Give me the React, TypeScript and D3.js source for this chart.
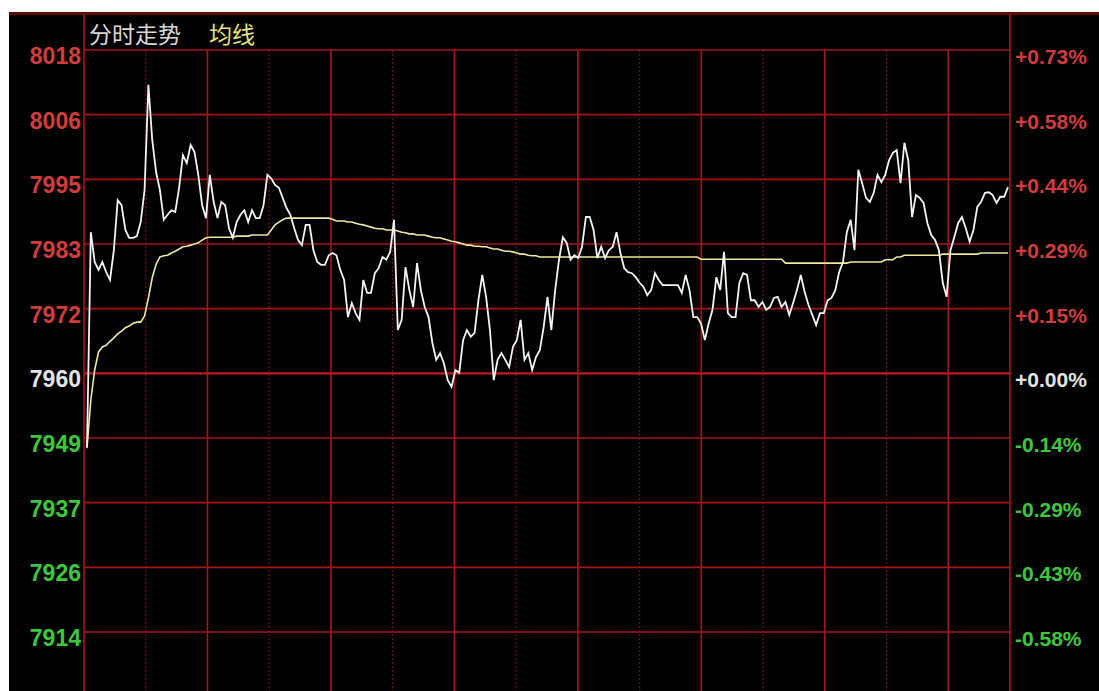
import React from "react";
import * as d3 from "d3";

// ---- data ----
const minutes = d3.range(0, 241);

const price: number[] = [
  7947.4, 7985.6, 7980.3, 7978.9, 7980.3, 7978.5, 7977.1, 7982.4, 7991.3, 7990.4,
  7986.0, 7984.6, 7984.6, 7984.9, 7987.4, 7993.1, 8011.8, 8002.0, 7996.3, 7993.1,
  7987.8, 7988.7, 7989.5, 7989.2, 7993.5, 7999.3, 7997.9, 8001.1, 7999.9, 7995.8,
  7990.4, 7988.1, 7995.8, 7991.0, 7988.1, 7991.0, 7990.4, 7986.3, 7984.6, 7987.4,
  7988.7, 7989.5, 7987.4, 7989.5, 7988.1, 7988.1, 7990.4, 7995.8, 7995.2, 7994.0,
  7993.5, 7991.7, 7989.9, 7988.7, 7986.3, 7984.2, 7983.3, 7986.9, 7986.9, 7982.4,
  7980.3, 7979.8, 7979.8, 7981.5, 7981.9, 7981.5, 7978.9, 7977.1, 7970.5, 7973.0,
  7971.2, 7970.0, 7977.1, 7974.8, 7974.8, 7978.3, 7979.2, 7981.2, 7980.7, 7982.1,
  7987.8, 7968.2, 7970.0, 7979.4, 7975.3, 7972.3, 7980.1, 7975.3, 7972.3, 7970.5,
  7965.9, 7962.9, 7964.1, 7962.3, 7959.3, 7958.1, 7961.1, 7960.6, 7966.4, 7968.2,
  7967.0, 7967.7, 7973.5, 7978.0, 7974.1, 7968.2, 7959.3, 7962.9, 7964.1, 7962.9,
  7961.6, 7965.2, 7966.4, 7970.0, 7962.9, 7964.1, 7961.1, 7963.4, 7964.6, 7968.7,
  7974.1, 7968.2, 7975.3, 7980.7, 7984.7, 7983.7, 7980.7, 7981.5, 7981.0, 7983.0,
  7988.3, 7988.3, 7986.0, 7981.0, 7983.0, 7981.0, 7982.4, 7983.0, 7985.6, 7981.9,
  7979.2, 7978.5, 7978.3, 7977.6, 7976.6, 7975.9, 7974.4, 7975.3, 7978.3, 7977.1,
  7976.2, 7976.2, 7976.2, 7976.2, 7976.2, 7974.8, 7978.0, 7975.3, 7970.5, 7970.5,
  7969.4, 7966.4, 7969.4, 7971.8, 7977.6, 7975.3, 7982.1, 7971.2, 7970.5, 7970.5,
  7976.6, 7978.3, 7978.0, 7973.5, 7973.5, 7972.3, 7973.2, 7971.8, 7972.3, 7973.9,
  7974.1, 7972.3, 7973.2, 7970.9, 7973.0, 7975.3, 7978.0, 7975.0, 7972.7, 7970.9,
  7969.1, 7971.2, 7971.2, 7973.5, 7973.9, 7975.3, 7978.5, 7980.3, 7985.6, 7987.8,
  7982.4, 7996.7, 7994.3, 7991.7, 7991.0, 7992.6, 7995.8, 7994.5, 7995.8, 7998.4,
  7999.7, 8000.2, 7994.3, 8001.5, 7998.4, 7988.3, 7992.2, 7991.7, 7990.8, 7987.2,
  7985.1, 7984.2, 7982.4, 7976.6, 7974.1, 7982.4, 7984.7, 7987.2, 7988.3, 7986.3,
  7983.9, 7986.0, 7990.1, 7991.0, 7992.6, 7992.7, 7992.2, 7990.8, 7991.9, 7991.9,
  7993.6,
];

const avgPrice: number[] = [
  7947.2, 7955.8, 7961.1, 7964.3, 7965.2, 7965.5, 7966.2, 7966.8, 7967.5, 7968.0,
  7968.6, 7968.9, 7969.4, 7969.6, 7969.6, 7970.7, 7973.9, 7977.5, 7979.9, 7981.2,
  7981.4, 7981.5, 7981.9, 7982.2, 7982.6, 7983.0, 7983.1, 7983.3, 7983.5, 7983.7,
  7984.2, 7984.6, 7984.7, 7984.7, 7984.7, 7984.7, 7984.7, 7984.7, 7984.7, 7984.9,
  7984.9, 7984.9, 7984.9, 7985.1, 7985.1, 7985.1, 7985.1, 7985.1, 7986.0, 7986.9,
  7987.4, 7987.8, 7988.1, 7988.1, 7988.1, 7988.1, 7988.1, 7988.1, 7988.1, 7988.1,
  7988.1, 7988.1, 7988.1, 7988.1, 7987.9, 7987.6, 7987.6, 7987.6, 7987.4, 7987.4,
  7987.2, 7987.0, 7986.9, 7986.7, 7986.5, 7986.3, 7986.2, 7986.2, 7986.0, 7986.0,
  7986.0, 7985.8, 7985.6, 7985.5, 7985.3, 7985.3, 7985.1, 7985.1, 7985.1, 7984.9,
  7984.7, 7984.6, 7984.6, 7984.4, 7984.2, 7984.0, 7983.9, 7983.7, 7983.5, 7983.3,
  7983.3, 7983.1, 7983.1, 7983.0, 7983.0, 7982.8, 7982.6, 7982.6, 7982.4, 7982.2,
  7982.2, 7982.1, 7981.9, 7981.7, 7981.7, 7981.5, 7981.4, 7981.4, 7981.2, 7981.2,
  7981.2, 7981.2, 7981.2, 7981.2, 7981.2, 7981.2, 7981.2, 7981.2, 7981.2, 7981.2,
  7981.2, 7981.2, 7981.2, 7981.2, 7981.2, 7981.2, 7981.2, 7981.2, 7981.2, 7981.2,
  7981.2, 7981.2, 7981.2, 7981.2, 7981.2, 7981.2, 7981.2, 7981.2, 7981.2, 7981.2,
  7981.2, 7981.2, 7981.2, 7981.2, 7981.2, 7981.2, 7981.2, 7981.2, 7981.2, 7981.2,
  7980.8, 7980.8, 7980.8, 7980.8, 7980.8, 7980.8, 7980.8, 7980.8, 7980.8, 7980.8,
  7980.8, 7980.8, 7980.8, 7980.8, 7980.8, 7980.8, 7980.8, 7980.8, 7980.8, 7980.8,
  7980.8, 7980.8, 7980.1, 7980.1, 7980.1, 7980.1, 7980.1, 7980.1, 7980.1, 7980.1,
  7980.1, 7980.1, 7980.1, 7980.1, 7980.1, 7980.1, 7980.1, 7980.1, 7980.1, 7980.3,
  7980.3, 7980.3, 7980.3, 7980.3, 7980.3, 7980.3, 7980.3, 7980.3, 7980.7, 7980.7,
  7980.7, 7981.2, 7981.2, 7981.5, 7981.5, 7981.5, 7981.5, 7981.5, 7981.5, 7981.5,
  7981.5, 7981.5, 7981.5, 7981.7, 7981.7, 7981.7, 7981.7, 7981.7, 7981.7, 7981.7,
  7981.7, 7981.7, 7981.7, 7981.9, 7981.9, 7981.9, 7981.9, 7981.9, 7981.9, 7981.9,
  7981.9,
];

const tickValues = [8018, 8006.5, 7995, 7983.5, 7972, 7960.5, 7949, 7937.5, 7926, 7914.5];
const priceLabels = ["8018", "8006", "7995", "7983", "7972", "7960", "7949", "7937", "7926", "7914"];
const pctLabels = ["+0.73%", "+0.58%", "+0.44%", "+0.29%", "+0.15%", "+0.00%", "-0.14%", "-0.29%", "-0.43%", "-0.58%"];
const baseIndex = 5;
const gridDivisions = d3.range(0, 16);
const titleText = "分时走势";
const avgText = "均线";

// ---- layout ----
const W = 1099;
const H = 691;
const plotL = 84;
const plotR = 1010;
const plotT = 50;
const plotB = 632;

const RED = "#d23c3c";
const GREEN = "#3cc83c";
const WHITE = "#e4e4e4";

export default function App() {
  const x = d3.scaleLinear().domain([0, 240]).range([87, 1008]);
  const y = d3.scaleLinear().domain([7914.5, 8018]).range([plotB, plotT]);
  const gx = d3.scaleLinear().domain([0, 15]).range([plotL, plotR]);

  const priceLine = d3
    .line<number>()
    .x((_, i) => x(minutes[i]))
    .y((d) => y(d));

  const labelColor = (i: number) => (i < baseIndex ? RED : i === baseIndex ? WHITE : GREEN);
  const numFont = "'Liberation Sans', Arial, sans-serif";

  return (
    <svg
      width={W}
      height={H}
      style={{ position: "absolute", left: 0, top: 0, display: "block" }}
    >
      <rect x={0} y={0} width={W} height={H} fill="#ffffff" />
      <rect x={9} y={12} width={W - 9} height={H - 12} fill="#000000" />
      <rect x={9} y={12} width={W - 9} height={3} fill="#5e0a0a" />

      {/* vertical grid */}
      {gridDivisions.map((k) => {
        const xx = gx(k);
        const solid = k % 2 === 0 || k === 15;
        const border = k === 0 || k === 15;
        return (
          <line
            key={"v" + k}
            x1={xx}
            x2={xx}
            y1={border ? 14 : plotT}
            y2={H}
            stroke={solid ? "#a81418" : "#6a1216"}
            strokeWidth={solid ? 1.6 : 1.2}
            strokeDasharray={solid ? undefined : "2,2"}
          />
        );
      })}

      {/* horizontal grid */}
      {tickValues.map((v, i) => (
        <line
          key={"h" + i}
          x1={plotL}
          x2={plotR}
          y1={y(v)}
          y2={y(v)}
          stroke={i === baseIndex ? "#c01c20" : "#a81418"}
          strokeWidth={i === baseIndex ? 2.2 : 1.6}
        />
      ))}

      {/* left labels */}
      {tickValues.map((v, i) => (
        <text
          key={"l" + i}
          x={81}
          y={y(v) + 14}
          textAnchor="end"
          fontFamily={numFont}
          fontWeight="bold"
          fontSize={23}
          fill={labelColor(i)}
        >
          {priceLabels[i]}
        </text>
      ))}

      {/* right labels */}
      {tickValues.map((v, i) => (
        <text
          key={"r" + i}
          x={1015}
          y={y(v) + 14}
          textAnchor="start"
          fontFamily={numFont}
          fontWeight="bold"
          fontSize={21}
          fill={labelColor(i)}
        >
          {pctLabels[i]}
        </text>
      ))}

      {/* title */}
      <text x={89} y={43} fontFamily="'Noto Sans CJK SC', sans-serif" fontSize={23} fill="#d8d8d8">
        {titleText}
      </text>
      <text x={209} y={43} fontFamily="'Noto Sans CJK SC', sans-serif" fontSize={23} fill="#e6e27a">
        {avgText}
      </text>

      {/* average line */}
      <path d={priceLine(avgPrice) || ""} fill="none" stroke="#ecea9c" strokeWidth={1.6} />
      {/* price line */}
      <path d={priceLine(price) || ""} fill="none" stroke="#f4f4f4" strokeWidth={1.8} strokeLinejoin="miter" />
    </svg>
  );
}
